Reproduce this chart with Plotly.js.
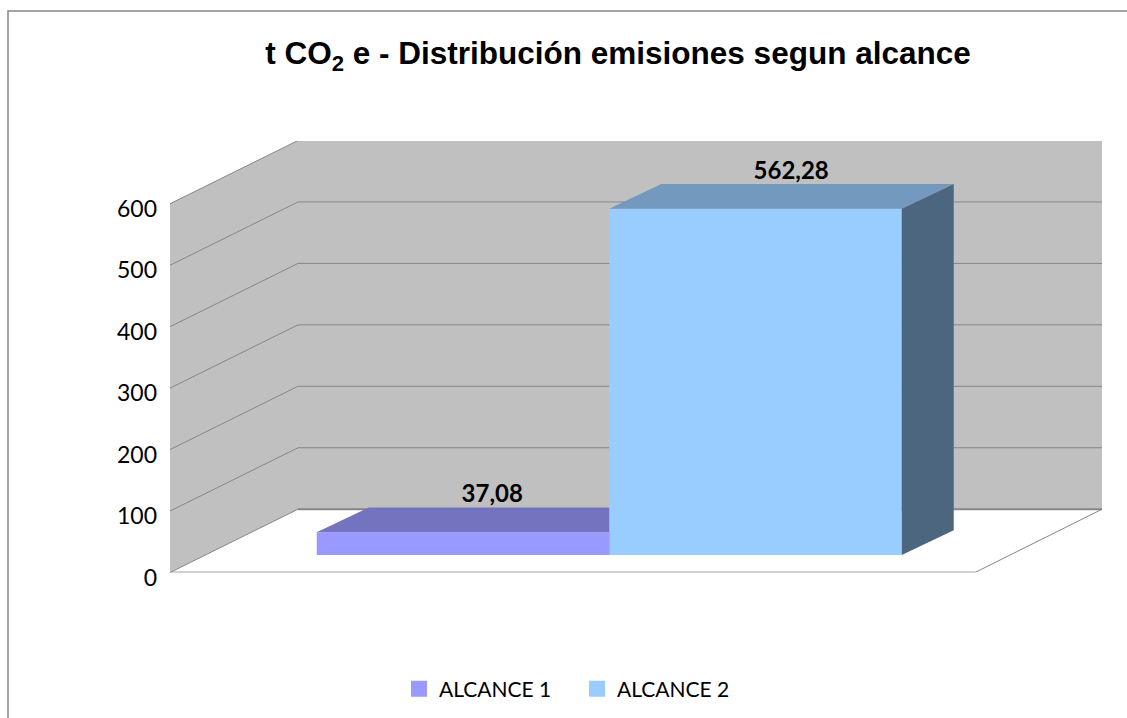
<!DOCTYPE html>
<html>
<head>
<meta charset="utf-8">
<script src="https://cdn.plot.ly/plotly-3.0.1.min.js"></script>
<style>html,body{margin:0;padding:0;background:#fff;overflow:hidden}#chart{width:1127px;height:718px}</style>
</head>
<body>
<div id="chart"></div>
<script>
// Data
var categories = ['ALCANCE 1', 'ALCANCE 2'];
var values = [37.08, 562.28];
var valueLabels = ['37,08', '562,28'];
var yTicks = [0, 100, 200, 300, 400, 500, 600];

// Styles
var frontColors = ['#9999FF', '#99CCFF'];
var topColors = ['#7373BF', '#7399BF'];
var sideColors = ['#4D4D80', '#4D6680'];
var labelNudgeX = [0.10, 0.122];
var WALL = '#C0C0C0', GRID = '#868686';

// Page geometry (px) -> axes
var W = 1127, H = 718;
var L = 170, R = 1102, T = 141, B = 572.5;
var unitPx = 292.5, x0Px = 463;          // one category = 292.5px, first bar centred at 463
var wallScale = 0.6145, barScale = 0.616;  // px per value unit
var barFloor = 555;
function X(px) { return (px - x0Px) / unitPx; }
var xRange = [X(L), X(R)];
var yRange = [0, (B - T) / wallScale];
var y2Range = [-(B - barFloor) / barScale, (barFloor - T) / barScale];

// oblique offsets
var wallDX = 128 / unitPx, wallDY = 103;
var floorRight = X(975);
var barDX = 52 / unitPx, barDY = 40;
var labelLift = 58;

var shapes = [];
function poly(pts, fill) {
  var d = pts.map(function (p, i) { return (i ? 'L' : 'M') + p[0] + ',' + p[1]; }).join('') + 'Z';
  shapes.push({type: 'path', path: d, xref: 'x', yref: 'y', layer: 'below', fillcolor: fill, line: {width: 0}});
}
function seg(a, b, w, c) {
  shapes.push({type: 'line', xref: 'x', yref: 'y', layer: 'below', x0: a[0], y0: a[1], x1: b[0], y1: b[1],
    line: {color: c || GRID, width: w}});
}
var xl = xRange[0], xb = xl + wallDX, xr = xRange[1], topV = yTicks[yTicks.length - 1];
poly([[xl, 0], [xl, topV], [xb, topV + wallDY], [xr, topV + wallDY], [xr, wallDY], [xb, wallDY]], WALL);
yTicks.forEach(function (v) {
  seg([xl, v], [xb, v + wallDY], 1);
  seg([xb, v + wallDY], [xr, v + wallDY], v === 0 ? 2 : 1);
});
seg([xb, topV + wallDY], [xr, topV + wallDY], 1);
seg([xl, 0], [floorRight, 0], 2, '#A6A6A6');
seg([floorRight, 0], [xr, wallDY], 1);

// frame round the chart (paper coordinates are page fractions here)
shapes.push({type: 'path', xref: 'paper', yref: 'paper', layer: 'above',
  path: 'M' + 8 / W + ',0L' + 8 / W + ',' + (1 - 11 / H) + 'L1,' + (1 - 11 / H),
  line: {color: '#868686', width: 1.5}});

var traces = [];
categories.forEach(function (name, i) {
  var ya = i === 0 ? 'y2' : 'y3', v = values[i];
  traces.push({type: 'bar', x: [i], y: [v], width: 1, xaxis: 'x', yaxis: ya, name: name, showlegend: false,
    marker: {color: frontColors[i], line: {width: 0}}, hoverinfo: 'skip'});
  traces.push({type: 'scatter', mode: 'lines', fill: 'toself', fillcolor: topColors[i], line: {width: 0},
    x: [i - .5, i + .5, i + .5 + barDX, i - .5 + barDX], y: [v, v, v + barDY, v + barDY],
    xaxis: 'x', yaxis: ya, showlegend: false, hoverinfo: 'skip'});
  traces.push({type: 'scatter', mode: 'lines', fill: 'toself', fillcolor: sideColors[i], line: {width: 0},
    x: [i + .5, i + .5 + barDX, i + .5 + barDX, i + .5], y: [0, barDY, v + barDY, v],
    xaxis: 'x', yaxis: ya, showlegend: false, hoverinfo: 'skip'});
  traces.push({type: 'scatter', mode: 'text', x: [i + labelNudgeX[i]], y: [v + labelLift], text: [valueLabels[i]],
    textposition: 'middle center', textfont: {family: 'Lato', size: 24, color: '#000', weight: 700},
    xaxis: 'x', yaxis: ya, showlegend: false, hoverinfo: 'skip'});
});
// legend entries
categories.forEach(function (name, i) {
  traces.push({type: 'scatter', mode: 'markers', x: [null], y: [null], name: name, xaxis: 'x', yaxis: 'y',
    marker: {symbol: 'square', size: 16, color: frontColors[i]}, hoverinfo: 'skip'});
});

var layout = {
  width: W, height: H, margin: {l: 0, r: 0, t: 0, b: 0, pad: 0},
  paper_bgcolor: '#fff', plot_bgcolor: 'rgba(0,0,0,0)', showlegend: true, hovermode: false,
  title: {text: '<b>t CO<sub>2</sub> e - Distribución emisiones segun alcance</b>',
    font: {family: 'Liberation Sans', size: 31.5, color: '#000'},
    x: 618 / W, xanchor: 'center', xref: 'paper', y: 1 - 53 / H, yanchor: 'middle', yref: 'paper'},
  xaxis: {domain: [L / W, R / W], range: xRange, showgrid: false, zeroline: false, showline: false, showticklabels: false, ticks: ''},
  yaxis: {domain: [1 - B / H, 1 - T / H], range: yRange, tickvals: yTicks, ticktext: yTicks.map(String), showgrid: false,
    zeroline: false, showline: false, ticks: '', ticklabelstandoff: 12, ticklabelshift: 5,
    tickfont: {family: 'Lato', size: 23, color: '#000'}},
  yaxis2: {domain: [1 - B / H, 1 - T / H], range: y2Range, overlaying: 'y', visible: false},
  yaxis3: {domain: [1 - B / H, 1 - T / H], range: y2Range, overlaying: 'y', visible: false},
  legend: {orientation: 'h', x: 399 / W, xanchor: 'left', y: 1 - 689 / H, yanchor: 'middle',
    entrywidth: 133, entrywidthmode: 'pixels', font: {family: 'Lato', size: 21, color: '#000'},
    bgcolor: 'rgba(0,0,0,0)', itemclick: false, itemdoubleclick: false},
  shapes: shapes
};
Plotly.newPlot('chart', traces, layout, {displayModeBar: false, responsive: false});
</script>
</body>
</html>
